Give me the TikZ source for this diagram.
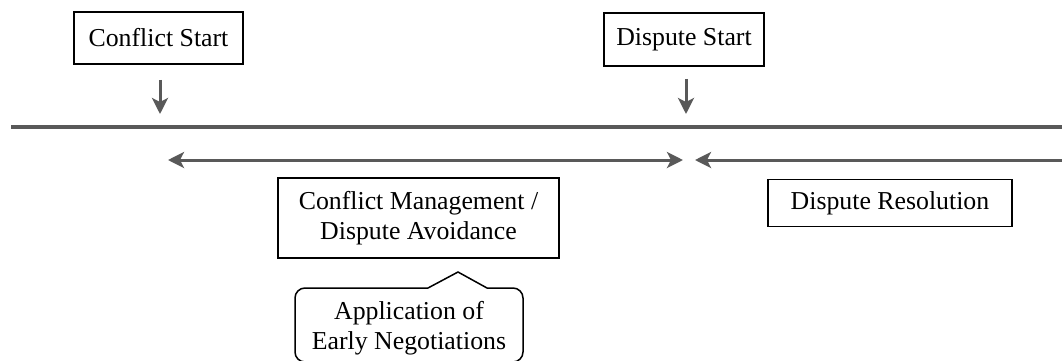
\documentclass[tikz,border=0pt]{standalone}
\usepackage{fontspec}
\setmainfont{Liberation Serif}
\usetikzlibrary{arrows.meta,positioning}
\definecolor{linegray}{RGB}{89,89,89}

\begin{document}
\begin{tikzpicture}[x=0.5pt,y=-0.5pt,font=\fontsize{12.9}{15}\selectfont,
	box/.style={draw,line width=0.75pt,inner sep=0pt,align=center},
	timeline/.style={draw=linegray,line width=1.7pt},
	arr/.style={draw=linegray,line width=1.5pt,-{Stealth[length=8pt,width=8pt,inset=2pt]}},
	twoarr/.style={arr,{Stealth[length=8pt,width=8pt,inset=2pt]}-{Stealth[length=8pt,width=8pt,inset=2pt]}},
	callout/.style={draw,line width=0.75pt}]

		\useasboundingbox (0,0) rectangle (1062,360);

		\node[box,minimum width=84.5pt,minimum height=26pt] (cs) at (158.5,38) {Conflict Start};
		\node[box,minimum width=80pt,minimum height=26.5pt] (ds) at (684,39.5) {Dispute Start};
		\node[box,minimum width=140.5pt,minimum height=40pt] (cm) at (418.5,218) {Conflict Management /\\Dispute Avoidance};
		\node[box,minimum width=122pt,minimum height=23.5pt] (dr) at (890,203) {Dispute Resolution};
		\node[align=center,inner sep=0pt] (ap) at (409,328) {Application of\\Early Negotiations};

		% timeline
		\coordinate (tlL) at (11,127);
		\coordinate (tlR) at (1062,127);
		\coordinate (csdn) at (160,114);
		\coordinate (dsdn) at (686,114);
		\coordinate (cmL) at (168,160);
		\coordinate (cmR) at (683,160);
		\coordinate (drL) at (695,160);
		\coordinate (drR) at (1062,160);

		\path[timeline] (tlL) -- (tlR);
		\path[arr] (csdn |- cs.south) ++(0,15) -- (csdn);
		\path[arr] (dsdn |- ds.south) ++(0,12) -- (dsdn);
		\path[twoarr] (cmL) -- (cmR);
		\path[arr] (drR) -- (drL);

		% callout round the early negotiations
		\draw[callout] (295,362) [rounded corners=5pt] -- (295,288) [sharp corners] -- (428,288) -- (458,272) -- (487,288) [rounded corners=5pt] -- (523,288) -- (523,362) -- cycle;

\end{tikzpicture}
\end{document}
